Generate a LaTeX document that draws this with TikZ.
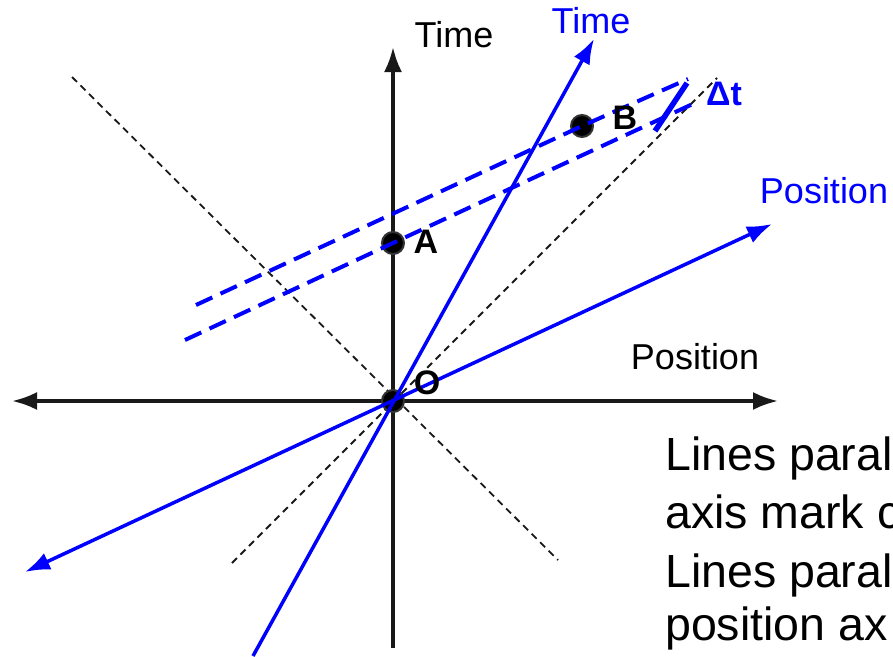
\documentclass[tikz,border=0pt]{standalone}
\usepackage{fontspec}
\setmainfont{Liberation Sans}
\usetikzlibrary{arrows.meta}

\tikzset{
  >={Latex[length=25pt,width=18pt]},
  restaxis/.style={draw=black!90, line width=3.5pt},
  movaxis/.style={draw=blue, line width=3.5pt},
  cone/.style={draw=black!90, line width=1.8pt, dash pattern=on 7pt off 5pt},
  simline/.style={draw=blue, line width=4pt, dash pattern=on 18pt off 9pt},
  event/.style={circle, fill=black, draw=black!80, line width=2pt, inner sep=0pt, minimum size=22pt},
  axlabel/.style={font=\fontsize{36}{40}\selectfont},
  evlabel/.style={font=\fontsize{34}{36}\selectfont\bfseries},
  note/.style={font=\fontsize{46.5}{54}\selectfont, anchor=base west, inner sep=0pt}
}

\begin{document}
\begin{tikzpicture}[x=1pt,y=-1pt]
  \useasboundingbox (0,0) rectangle (893,656);

  % ends of the axes
  \coordinate (O) at (393,401);
  \coordinate (xl) at (12,401);
  \coordinate (xr) at (778,401);
  \coordinate (yb) at (393,648);
  \coordinate (yt) at (393,47);
  \coordinate (tb) at (253,656);
  \coordinate (tt) at (594,39);
  \coordinate (pl) at (25,572);
  \coordinate (pr) at (772,224);

  % light cone
  \coordinate (c1) at (72,77);
  \coordinate (c2) at (558,560);
  \coordinate (c3) at (232,563);
  \coordinate (c4) at (717,78);
  \draw[cone] (c1) -- (c2);
  \draw[cone] (c3) -- (c4);

  % rest frame
  \draw[restaxis,<->] (xl) -- (xr);
  \draw[restaxis,->] (yb) -- (yt);

  % events
  \node[event] (o) at (O) {};
  \node[event] (a) at (393,243) {};
  \node[event] (b) at (582,126) {};

  % lines of simultaneity
  \coordinate (sa1) at (185,340);
  \coordinate (sa2) at (697,102);
  \coordinate (sb1) at (196,305);
  \coordinate (sb2) at (688,79);
  \draw[simline] (sa1) -- (a.center) -- (sa2);
  \draw[simline] (sb1) -- (b.center) -- (sb2);
  \coordinate (d1) at (655,131);
  \coordinate (d2) at (687,83);
  \draw[blue, line width=5.5pt] (d1) -- (d2);

  % moving frame
  \draw[movaxis,->] (tb) -- (tt);
  \draw[movaxis,<->] (pl) -- (pr);

  % labels
  \node[axlabel] (timelbl) at (454,35) {Time};
  \node[axlabel] (poslbl) at (695,357) {Position};
  \node[axlabel, text=blue] (mtimelbl) at (591,21) {Time};
  \node[axlabel, text=blue] (mposlbl) at (824,191) {Position};
  \node[evlabel, text=blue] (dtlbl) at (724,94) {Δt};
  \node[evlabel] (blbl) at (625,118) {B};
  \node[evlabel] (albl) at (426,242) {A};
  \node[evlabel] (olbl) at (427,383) {O};

  % note
  \node[note] (n1) at (665,470) {Lines paral};
  \node[note] (n2) at (665,528) {axis mark c};
  \node[note] (n3) at (665,587) {Lines paral};
  \node[note] (n4) at (665,640) {position ax};
\end{tikzpicture}
\end{document}
